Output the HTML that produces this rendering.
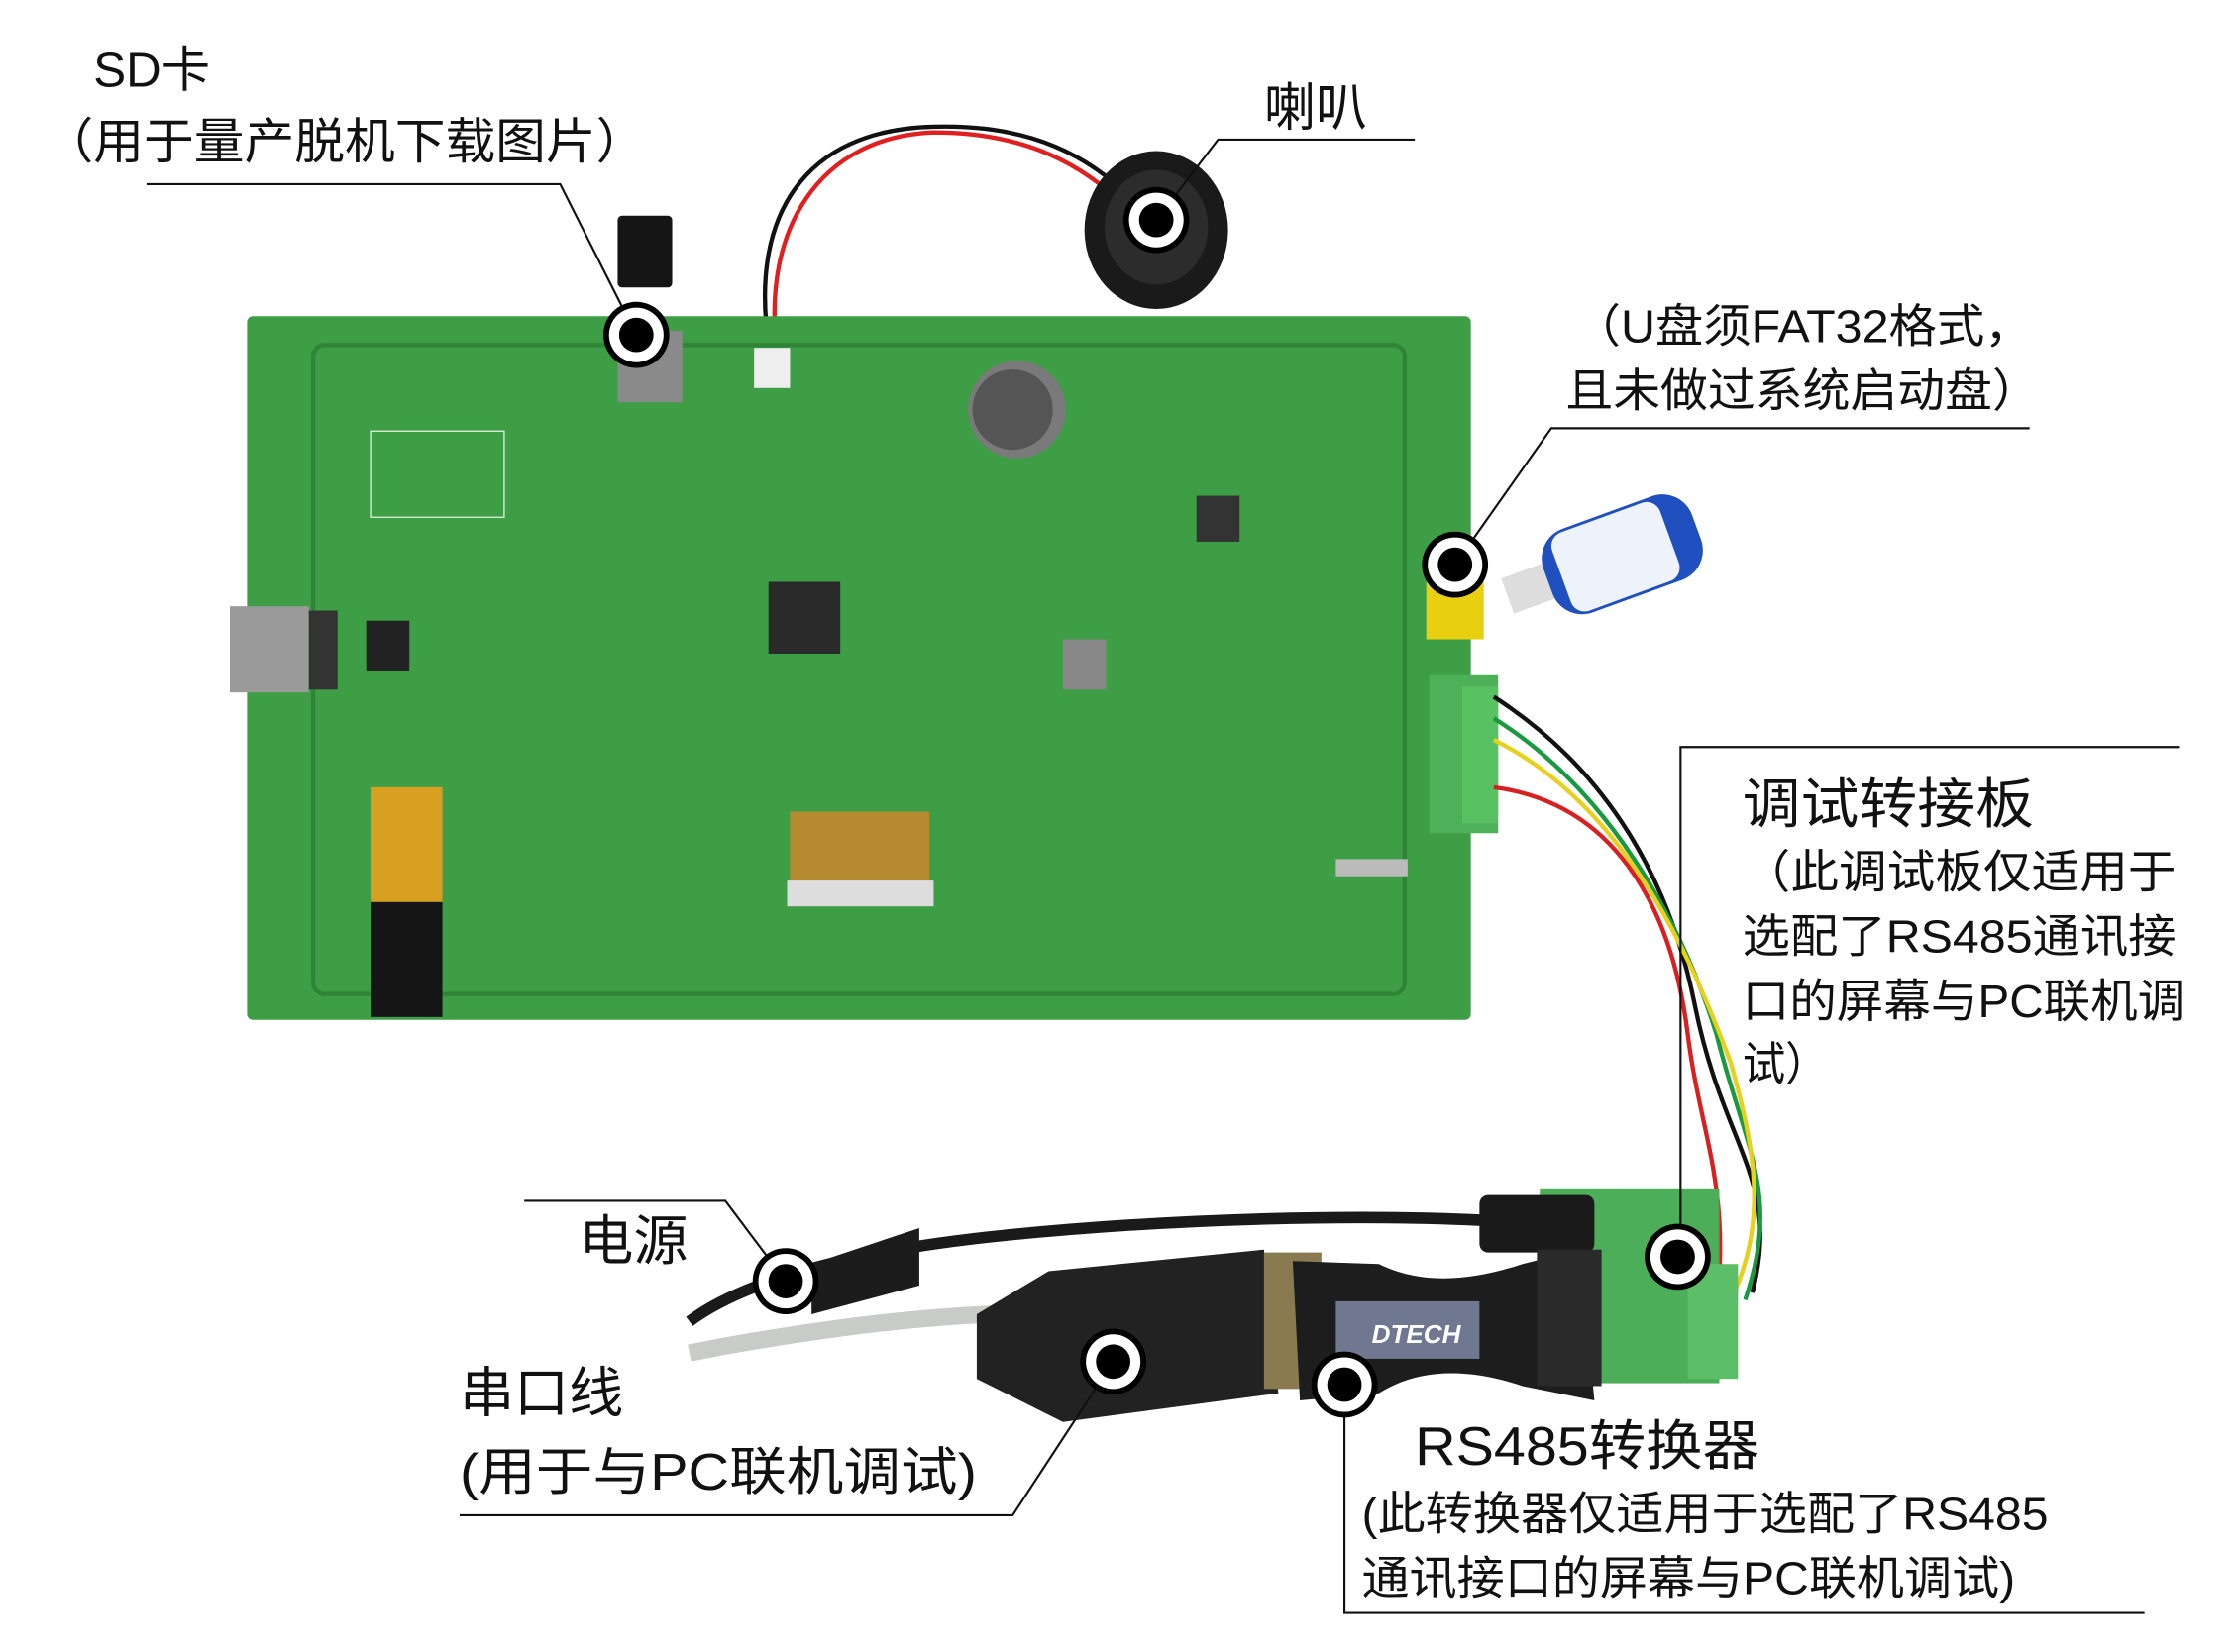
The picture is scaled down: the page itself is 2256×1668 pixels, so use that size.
<!DOCTYPE html>
<html><head><meta charset="utf-8"><style>
html,body{margin:0;padding:0;background:#fff;}
svg{display:block;}
text{font-family:"Liberation Sans","Noto Sans CJK SC",sans-serif;fill:#111;}
</style></head><body>
<svg width="2256" height="1668" viewBox="0 0 1556 1150" xmlns="http://www.w3.org/2000/svg">
<defs>
<g id="mk"><circle r="23" fill="#000"/><circle r="19" fill="#fff"/><circle r="12" fill="#000"/></g>
</defs>
<rect width="1556" height="1150" fill="#fff"/>

<!-- speaker wires -->
<path d="M536 245 C520 150 560 90 650 88 C720 86 760 110 790 140" fill="none" stroke="#111" stroke-width="3"/>
<path d="M541 245 C530 160 570 95 650 92 C715 92 755 115 785 145" fill="none" stroke="#e02020" stroke-width="3"/>
<!-- speaker -->
<ellipse cx="805" cy="160" rx="50" ry="55" fill="#1a1a1a"/>
<ellipse cx="805" cy="158" rx="36" ry="40" fill="#2c2c2c"/>
<!-- SD card -->
<rect x="430" y="150" width="38" height="50" rx="3" fill="#151515"/>

<!-- board -->
<rect x="172" y="220" width="852" height="490" rx="4" fill="#3e9e46"/>
<rect x="218" y="240" width="760" height="452" rx="8" fill="none" stroke="#2f8437" stroke-width="3"/>
<rect x="258" y="300" width="93" height="60" fill="none" stroke="#cfe8cf" stroke-width="1"/>
<rect x="160" y="422" width="55" height="60" fill="#9a9a9a"/>
<rect x="215" y="425" width="20" height="55" fill="#333"/>
<rect x="430" y="230" width="45" height="50" fill="#8a8a8a"/>
<circle cx="708" cy="285" r="34" fill="#7a7a7a"/><circle cx="705" cy="285" r="28" fill="#555"/>
<rect x="535" y="405" width="50" height="50" fill="#2a2a2a"/>
<rect x="255" y="432" width="30" height="35" fill="#222"/>
<rect x="833" y="345" width="30" height="32" fill="#333"/>
<rect x="740" y="445" width="30" height="35" fill="#888"/>
<rect x="550" y="565" width="97" height="50" fill="#b58a30"/>
<rect x="548" y="613" width="102" height="18" fill="#ddd"/>
<rect x="258" y="548" width="50" height="80" fill="#d8a020"/>
<rect x="258" y="628" width="50" height="80" fill="#151515"/>
<rect x="525" y="242" width="25" height="28" fill="#eee"/>
<rect x="993" y="405" width="40" height="40" fill="#e8d010"/>
<rect x="930" y="598" width="50" height="12" fill="#bbb"/>
<rect x="995" y="470" width="48" height="110" fill="#4fb05a"/>
<rect x="1018" y="478" width="25" height="95" fill="#58c262"/>

<!-- usb stick -->
<g transform="rotate(-20 1115 390)">
<rect x="1045" y="378" width="35" height="26" fill="#ddd"/>
<rect x="1075" y="360" width="110" height="62" rx="22" fill="#2050c0"/>
<rect x="1085" y="362" width="80" height="58" rx="10" fill="#eef2fa"/>
</g>

<!-- board wires to debug board -->
<path d="M1040 485 C1110 530 1160 600 1180 700 C1200 800 1240 820 1220 900" fill="none" stroke="#111" stroke-width="3"/>
<path d="M1040 500 C1120 550 1170 640 1195 720 C1215 800 1240 830 1215 905" fill="none" stroke="#1a9a40" stroke-width="3"/>
<path d="M1040 515 C1130 560 1175 660 1205 740 C1225 810 1230 860 1200 915" fill="none" stroke="#e8d020" stroke-width="3"/>
<path d="M1040 548 C1130 560 1165 640 1175 720 C1185 800 1210 830 1190 950" fill="none" stroke="#d82020" stroke-width="3"/>

<!-- debug board -->
<rect x="1072" y="828" width="125" height="135" fill="#4cae58"/>
<rect x="1175" y="880" width="35" height="80" fill="#5cbf68"/>
<!-- power cable -->
<path d="M480 920 C520 890 600 870 700 860 C820 848 950 845 1040 850" fill="none" stroke="#1a1a1a" stroke-width="8"/>
<rect x="1030" y="832" width="80" height="40" rx="6" fill="#1a1a1a"/>
<path d="M565 880 L640 855 L640 895 L565 915 Z" fill="#1c1c1c"/>
<!-- gray cable -->
<path d="M480 942 C540 930 620 918 690 915" fill="none" stroke="#c8ccc8" stroke-width="12"/>
<!-- serial cable body -->
<path d="M680 915 L730 885 L880 870 L890 970 L740 990 L680 960 Z" fill="#222"/>
<rect x="880" y="872" width="40" height="95" fill="#8a7a50"/>
<path d="M900 878 L960 880 Q1000 900 1060 880 L1100 870 L1110 975 L1060 965 Q1000 945 960 970 L905 975 Z" fill="#1d1d1d"/>
<rect x="930" y="906" width="100" height="40" fill="#6f7890"/>
<text x="955" y="935" font-size="18" font-style="italic" font-weight="bold" fill="#fff" style="fill:#fff">DTECH</text>
<rect x="1070" y="870" width="45" height="95" fill="#2a2a2a"/>

<!-- leader lines -->
<g stroke="#111" stroke-width="1.5" fill="none">
<polyline points="102,128 390,128 443,233"/>
<polyline points="985,97 848,97 805,153"/>
<polyline points="1413,298 1080,298 1013,393"/>
<polyline points="1517,520 1170,520 1170,875"/>
<polyline points="365,836 505,836 547,892"/>
<polyline points="320,1055 705,1055 775,948"/>
<polyline points="936,964 936,1123 1493,1123"/>
</g>

<!-- markers -->
<use href="#mk" x="443" y="233"/>
<use href="#mk" x="805" y="153"/>
<use href="#mk" x="1013" y="393"/>
<use href="#mk" x="1168" y="875"/>
<use href="#mk" x="547" y="892"/>
<use href="#mk" x="775" y="948"/>
<use href="#mk" x="936" y="964"/>

<!-- labels -->
<text x="65" y="60" font-size="34">SD卡</text>
<text x="30" y="110" font-size="34" textLength="420" lengthAdjust="spacingAndGlyphs">（用于量产脱机下载图片）</text>
<text x="880" y="87" font-size="36">喇叭</text>
<text x="1095" y="238" font-size="32" textLength="320" lengthAdjust="spacingAndGlyphs">（U盘须FAT32格式，</text>
<text x="1090" y="283" font-size="32" textLength="330" lengthAdjust="spacingAndGlyphs">且未做过系统启动盘）</text>
<text x="1213" y="573" font-size="38" textLength="203" lengthAdjust="spacingAndGlyphs">调试转接板</text>
<text x="1213" y="618" font-size="32" textLength="302" lengthAdjust="spacingAndGlyphs">（此调试板仅适用于</text>
<text x="1213" y="663" font-size="32" textLength="302" lengthAdjust="spacingAndGlyphs">选配了RS485通讯接</text>
<text x="1213" y="708" font-size="32" textLength="308" lengthAdjust="spacingAndGlyphs">口的屏幕与PC联机调</text>
<text x="1213" y="752" font-size="32" textLength="60" lengthAdjust="spacingAndGlyphs">试）</text>
<text x="403" y="877" font-size="38">电源</text>
<text x="320" y="983" font-size="38">串口线</text>
<text x="320" y="1037" font-size="36" textLength="360" lengthAdjust="spacingAndGlyphs">(用于与PC联机调试)</text>
<text x="985" y="1020" font-size="38" textLength="240" lengthAdjust="spacingAndGlyphs">RS485转换器</text>
<text x="948" y="1065" font-size="32" textLength="478" lengthAdjust="spacingAndGlyphs">(此转换器仅适用于选配了RS485</text>
<text x="948" y="1110" font-size="32" textLength="455" lengthAdjust="spacingAndGlyphs">通讯接口的屏幕与PC联机调试)</text>
</svg>
</body></html>
